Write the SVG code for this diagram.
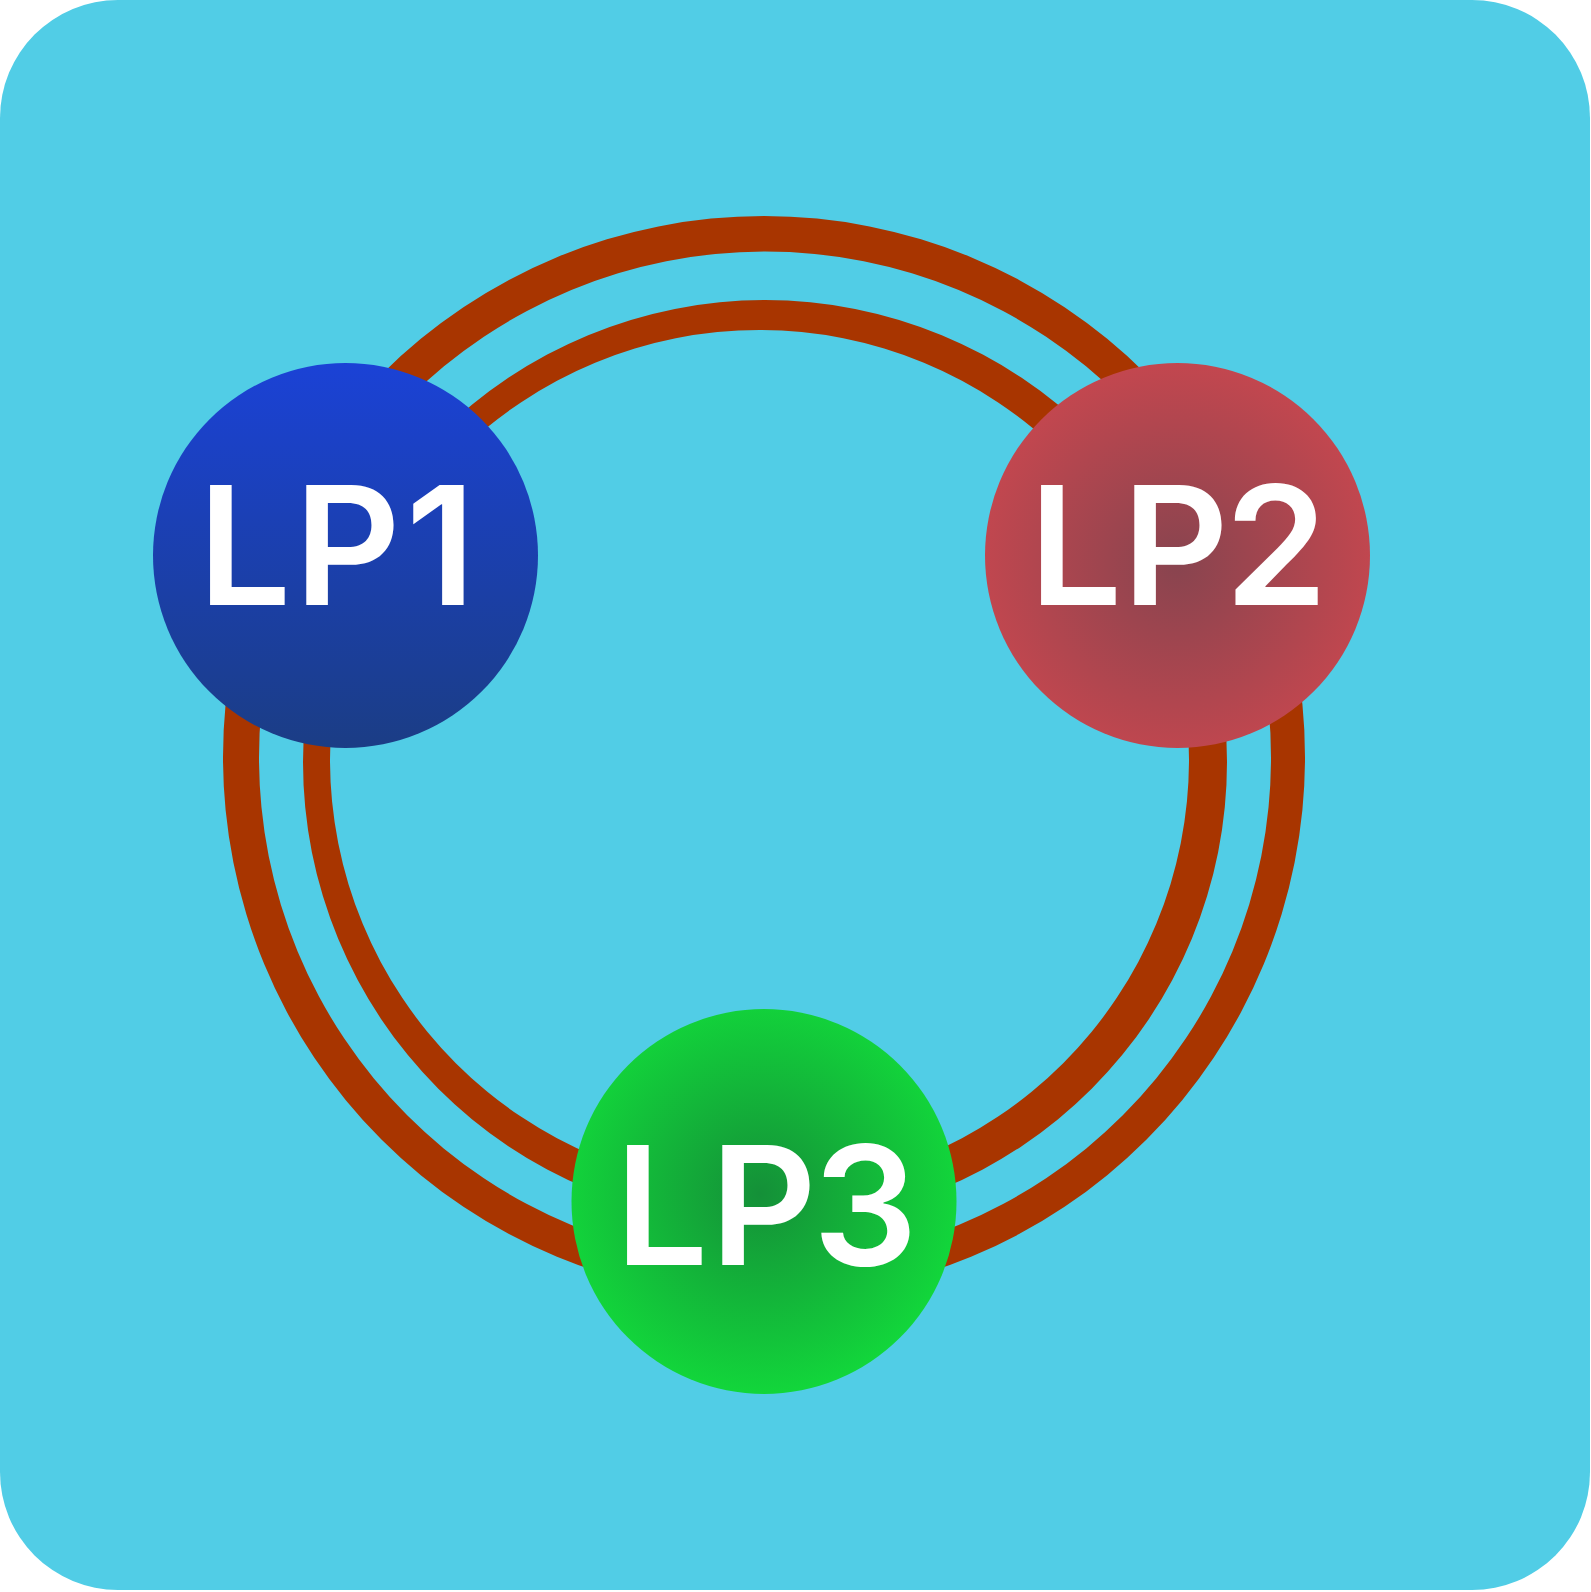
<svg xmlns="http://www.w3.org/2000/svg" width="1591" height="1592" viewBox="0 0 1591 1592">
  <defs>
    <style>
      .ring { fill: #A83500; fill-rule: evenodd; }
      .label { font-family: Inter, Roboto, "Liberation Sans", sans-serif; font-weight: 600; font-size: 165px; fill: #FFFFFF; }
    </style>
    <linearGradient id="gLP1" x1="0" y1="0" x2="0" y2="1">
      <stop offset="0" stop-color="#1B42D6"/>
      <stop offset="1" stop-color="#1B3D85"/>
    </linearGradient>
    <radialGradient id="gLP2" cx="0.5" cy="0.52" r="0.55">
      <stop offset="0" stop-color="#88444F"/>
      <stop offset="1" stop-color="#C6474F"/>
    </radialGradient>
    <radialGradient id="gLP3" cx="0.49" cy="0.48" r="0.55">
      <stop offset="0" stop-color="#149038"/>
      <stop offset="1" stop-color="#12DA3B"/>
    </radialGradient>
  </defs>

  <rect x="0" y="0" width="1590" height="1590" rx="118" ry="118" fill="#51CDE6"/>

  <g id="connectors">
    <path class="ring" d="M 223 757 A 541 541 0 1 0 1305 757 A 541 541 0 1 0 223 757 Z M 259 757.5 A 506 506 0 1 0 1271 757.5 A 506 506 0 1 0 259 757.5 Z"/>
    <path class="ring" d="M 303 762 A 462 462 0 1 0 1227 762 A 462 462 0 1 0 303 762 Z M 330 759.5 A 429.5 429.5 0 1 0 1189 759.5 A 429.5 429.5 0 1 0 330 759.5 Z"/>
  </g>

  <g id="LP1">
    <circle cx="345.5" cy="555.5" r="192.5" fill="url(#gLP1)"/>
    <text class="label" x="198" y="605">L<tspan dx="3">P</tspan><tspan dx="5">1</tspan></text>
  </g>
  <g id="LP2">
    <circle cx="1177.5" cy="555.5" r="192.5" fill="url(#gLP2)"/>
    <text class="label" x="1029" y="605">LP<tspan dx="-4">2</tspan></text>
  </g>
  <g id="LP3">
    <circle cx="764" cy="1201.5" r="192.5" fill="url(#gLP3)"/>
    <text class="label" x="615" y="1265">L<tspan dx="2">P</tspan><tspan dx="-4">3</tspan></text>
  </g>
</svg>
